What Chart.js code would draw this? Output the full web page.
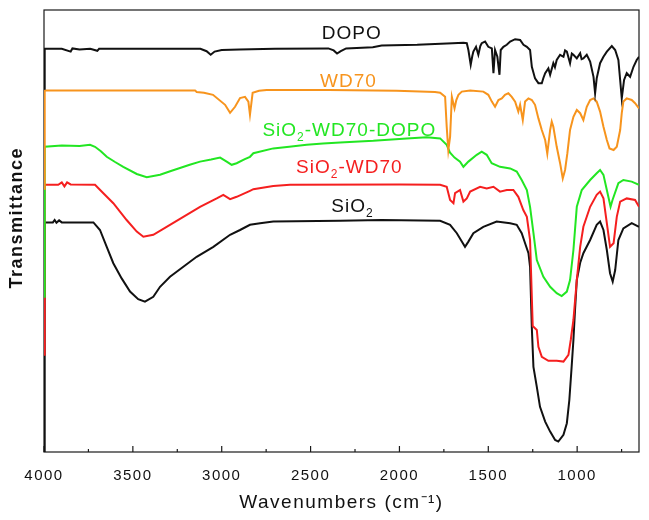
<!DOCTYPE html>
<html>
<head>
<meta charset="utf-8">
<script src="https://cdn.jsdelivr.net/npm/chart.js@4/dist/chart.umd.min.js"></script>
<style>
  body { margin: 0; background: #fff; }
</style>
</head>
<body>
<canvas id="myChart" width="649" height="520"></canvas>
<script>
// FTIR spectra: [wavenumber cm-1, transmittance (a.u.)]
const dopo = [[4000, 90.8], [3996, 100.8], [3900, 100.8], [3850, 100.1], [3840, 100.9], [3800, 100.6], [3740, 100.8], [3700, 100.3], [3690, 100.8], [3300, 100.8], [3120, 100.8], [3085, 100.2], [3062, 99.3], [3040, 100.1], [3000, 100.5], [2900, 100.6], [2700, 100.8], [2400, 100.9], [2370, 100.4], [2351, 99.6], [2330, 100.2], [2300, 100.9], [2150, 101.2], [2100, 101.6], [1900, 101.8], [1800, 102.0], [1700, 102.2], [1640, 102.3], [1621, 102.2], [1612, 100.5], [1599, 96.8], [1590, 99.0], [1584, 100.1], [1569, 101.3], [1556, 99.3], [1545, 101.5], [1537, 102.2], [1518, 102.6], [1500, 101.3], [1480, 100.9], [1471, 94.7], [1462, 100.5], [1449, 98.8], [1437, 94.3], [1430, 100.5], [1415, 101.3], [1396, 101.8], [1377, 102.6], [1349, 103.2], [1321, 103.0], [1302, 101.8], [1283, 101.3], [1265, 100.5], [1255, 96.3], [1237, 93.4], [1218, 92.2], [1199, 92.2], [1190, 93.5], [1180, 94.7], [1162, 95.9], [1152, 94.3], [1134, 97.2], [1125, 96.2], [1115, 98.0], [1096, 99.3], [1077, 98.8], [1068, 100.4], [1058, 100.1], [1040, 97.2], [1030, 99.6], [1021, 99.3], [1002, 98.4], [983, 99.7], [975, 98.2], [965, 98.4], [946, 99.3], [927, 97.6], [908, 93.8], [899, 89.7], [890, 93.4], [871, 97.2], [852, 98.8], [833, 100.1], [805, 101.5], [786, 100.5], [768, 98.0], [758, 93.0], [749, 88.4], [736, 93.0], [721, 94.7], [702, 93.8], [683, 96.3], [665, 98.0], [652, 98.8]];

const wd70 = [[4000, 65.8], [3996, 90.4], [3500, 90.4], [3150, 90.4], [3141, 90.0], [3100, 89.8], [3049, 89.3], [2981, 86.8], [2953, 84.8], [2925, 86.3], [2897, 88.5], [2869, 88.8], [2850, 87.6], [2841, 84.3], [2826, 89.8], [2790, 90.3], [2747, 90.5], [2400, 90.5], [2015, 90.3], [1800, 90.0], [1771, 89.8], [1743, 88.8], [1734, 81.3], [1725, 75.5], [1715, 78.8], [1705, 88.8], [1690, 85.9], [1680, 88.0], [1668, 89.3], [1649, 90.1], [1602, 90.4], [1528, 90.1], [1500, 89.3], [1480, 87.6], [1462, 86.3], [1443, 88.0], [1424, 88.4], [1406, 89.3], [1387, 89.7], [1368, 88.8], [1349, 87.6], [1331, 85.1], [1321, 86.8], [1306, 83.0], [1293, 87.6], [1274, 88.4], [1255, 88.0], [1237, 86.8], [1218, 83.4], [1199, 80.5], [1180, 78.0], [1168, 74.6], [1152, 80.5], [1143, 82.6], [1134, 81.3], [1115, 76.3], [1096, 72.2], [1081, 68.4], [1068, 70.5], [1055, 74.7], [1040, 80.5], [1021, 83.8], [1002, 85.5], [983, 84.7], [965, 83.0], [946, 86.3], [927, 88.0], [908, 88.4], [890, 87.6], [871, 85.1], [852, 81.3], [833, 78.0], [818, 75.9], [795, 75.5], [777, 76.3], [758, 80.5], [749, 84.7], [740, 87.6], [721, 88.4], [693, 88.0], [674, 87.2], [652, 85.9]];

const sio2Wd70Dopo = [[4000, 38.8], [3996, 76.3], [3900, 76.6], [3800, 76.5], [3741, 76.8], [3713, 76.3], [3680, 75.2], [3647, 73.8], [3600, 72.5], [3554, 71.3], [3478, 69.5], [3422, 68.7], [3347, 69.3], [3290, 70.2], [3235, 71.0], [3180, 71.8], [3122, 72.6], [3060, 73.1], [3009, 73.6], [2972, 72.6], [2944, 71.8], [2916, 72.2], [2870, 73.2], [2841, 73.8], [2822, 74.7], [2710, 75.9], [2620, 76.3], [2522, 76.8], [2430, 77.1], [2334, 77.4], [2147, 77.8], [1959, 78.4], [1846, 78.7], [1771, 78.4], [1734, 76.8], [1715, 74.8], [1690, 73.6], [1659, 72.6], [1640, 71.3], [1612, 72.6], [1565, 74.3], [1537, 75.1], [1509, 74.3], [1481, 72.2], [1434, 71.3], [1377, 70.9], [1340, 70.1], [1312, 68.0], [1283, 65.5], [1265, 61.3], [1246, 54.8], [1227, 48.0], [1190, 43.8], [1152, 41.3], [1115, 39.7], [1087, 39.0], [1058, 40.1], [1040, 43.0], [1021, 50.5], [1002, 61.3], [974, 65.5], [927, 68.0], [890, 69.7], [871, 70.5], [852, 69.3], [833, 65.5], [812, 61.3], [801, 63.0], [768, 67.2], [740, 68.0], [693, 67.6], [652, 66.8]];

const sio2Wd70 = [[4000, 24.3], [3996, 66.8], [3920, 66.8], [3900, 67.4], [3885, 66.4], [3870, 67.4], [3850, 66.9], [3713, 66.8], [3666, 64.7], [3610, 62.2], [3535, 58.0], [3478, 55.1], [3441, 53.8], [3385, 54.3], [3310, 56.3], [3216, 58.8], [3122, 61.3], [3028, 63.4], [2991, 64.3], [2953, 63.2], [2916, 63.8], [2841, 65.3], [2822, 65.7], [2710, 66.5], [2616, 66.8], [2000, 66.9], [1771, 66.8], [1734, 66.3], [1715, 63.0], [1696, 62.2], [1687, 64.7], [1659, 65.5], [1640, 62.6], [1621, 63.4], [1602, 65.1], [1546, 66.3], [1509, 65.9], [1471, 66.3], [1434, 65.1], [1396, 65.5], [1359, 65.5], [1331, 63.8], [1303, 60.5], [1283, 58.8], [1265, 53.0], [1250, 31.5], [1227, 30.5], [1218, 26.3], [1199, 23.8], [1162, 22.8], [1115, 22.8], [1077, 22.6], [1049, 24.3], [1036, 28.0], [1021, 33.0], [1002, 43.0], [983, 51.3], [965, 56.3], [927, 61.3], [890, 64.3], [871, 65.1], [852, 63.4], [833, 57.2], [815, 51.3], [795, 52.2], [777, 58.8], [758, 62.6], [721, 63.4], [674, 63.0], [652, 61.3]];

const sio2 = [[4000, 0], [3996, 57.4], [3950, 57.4], [3940, 58.0], [3930, 57.3], [3915, 57.9], [3900, 57.4], [3722, 57.4], [3685, 55.5], [3647, 51.3], [3610, 47.2], [3563, 43.4], [3516, 40.1], [3470, 38.2], [3432, 37.6], [3385, 38.8], [3347, 41.3], [3291, 43.8], [3216, 46.3], [3141, 48.8], [3047, 51.3], [2953, 54.3], [2897, 55.5], [2841, 56.8], [2784, 57.2], [2710, 57.6], [2334, 57.8], [2100, 58.0], [1771, 57.8], [1715, 56.8], [1677, 54.7], [1649, 52.6], [1631, 51.3], [1612, 52.6], [1584, 54.7], [1528, 56.3], [1453, 57.6], [1377, 57.2], [1340, 56.8], [1312, 54.7], [1293, 52.2], [1274, 49.7], [1265, 46.3], [1255, 31.0], [1246, 21.3], [1227, 16.3], [1209, 11.3], [1180, 7.6], [1152, 5.1], [1124, 3.0], [1106, 2.6], [1077, 4.3], [1058, 7.2], [1044, 13.0], [1031, 21.3], [1021, 28.0], [1012, 35.5], [1002, 43.0], [983, 47.3], [965, 49.7], [927, 53.0], [890, 56.8], [871, 57.6], [852, 55.5], [833, 50.5], [815, 44.7], [800, 42.6], [786, 45.5], [768, 53.0], [740, 55.9], [693, 57.2], [652, 56.3]];

const seriesNames = ['DOPO', 'WD70', 'SiO2-WD70-DOPO', 'SiO2-WD70', 'SiO2'];
const seriesData = [dopo, wd70, sio2Wd70Dopo, sio2Wd70, sio2];
const seriesColors = ['#111111', '#f7941d', '#22e622', '#f51f1f', '#111111'];

// in-plot labels, placed in data coordinates
const labelWaves = [2268, 2287, 2282, 2282, 2264];
const labelLevels = [103.3, 91.3, 79.1, 69.8, 60.1];

const majorTicks = [4000, 3500, 3000, 2500, 2000, 1500, 1000];
const minorTicks = [3750, 3250, 2750, 2250, 1750, 1250, 750];

const yTitle = 'Transmittance';
const FONT = '"Liberation Sans", Arial, sans-serif';

function drawLabel(ctx, text, cx, baseY, color) {
  let pieces = [{ t: text, sub: false }];
  if (text.startsWith('SiO2')) {
    pieces = [{ t: 'SiO', sub: false }, { t: '2', sub: true }, { t: text.slice(4), sub: false }];
  }
  pieces = pieces.filter(p => p.t.length);
  const big = '19px ' + FONT, small = '12px ' + FONT;
  let total = 0;
  pieces.forEach(p => {
    ctx.font = p.sub ? small : big;
    p.w = ctx.measureText(p.t).width;
    total += p.w;
  });
  let x = cx - total / 2;
  ctx.fillStyle = color;
  ctx.textAlign = 'left';
  ctx.textBaseline = 'alphabetic';
  pieces.forEach(p => {
    ctx.font = p.sub ? small : big;
    ctx.fillText(p.t, x, p.sub ? baseY + 5 : baseY);
    x += p.w;
  });
}

const framePlugin = {
  id: 'framePlugin',
  beforeDraw(chart) {
    chart.ctx.letterSpacing = '1.5px';
  },
  beforeDatasetsDraw(chart) {
    const { ctx, chartArea: a, scales: { x } } = chart;
    ctx.save();
    ctx.strokeStyle = '#1a1a1a';
    ctx.lineWidth = 1.2;
    ctx.strokeRect(a.left, a.top, a.right - a.left, a.bottom - a.top);
    x.ticks.forEach(t => {
      const px = x.getPixelForValue(t.value);
      const len = majorTicks.includes(t.value) ? 6 : 3;
      ctx.beginPath();
      ctx.moveTo(px, a.bottom);
      ctx.lineTo(px, a.bottom - len);
      ctx.stroke();
    });
    // y axis title, a little above centre as in the figure
    ctx.translate(17, a.top + (a.bottom - a.top) * 0.47);
    ctx.rotate(-Math.PI / 2);
    ctx.font = 'bold 18px ' + FONT;
    ctx.fillStyle = '#111';
    ctx.textAlign = 'center';
    ctx.textBaseline = 'middle';
    ctx.fillText(yTitle, 0, 0);
    ctx.restore();
  },
  afterDatasetsDraw(chart) {
    const { ctx, scales: { x, y } } = chart;
    ctx.save();
    ctx.letterSpacing = '1px';
    seriesNames.forEach((name, i) => {
      drawLabel(ctx, name, x.getPixelForValue(labelWaves[i]), y.getPixelForValue(labelLevels[i]), seriesColors[i]);
    });
    ctx.restore();
  }
};

const ctx = document.getElementById('myChart').getContext('2d');
const myChart = new Chart(ctx, {
  type: 'line',
  data: {
    datasets: seriesNames.map((name, i) => ({
      label: name,
      data: seriesData[i].map(p => ({ x: p[0], y: p[1] })),
      borderColor: seriesColors[i],
      borderWidth: 2,
      pointRadius: 0,
      tension: 0,
      fill: false,
    })),
  },
  options: {
    responsive: false,
    devicePixelRatio: 1,
    animation: false,
    layout: { padding: { top: 10, right: 10, left: 0, bottom: 0 } },
    plugins: { legend: { display: false }, tooltip: { enabled: false } },
    scales: {
      x: {
        type: 'linear',
        reverse: true,
        min: 652,
        max: 4000,
        grid: { display: false },
        border: { display: false },
        afterBuildTicks: (scale) => {
          scale.ticks = majorTicks.concat(minorTicks).map(v => ({ value: v }));
        },
        afterFit: (scale) => { scale.height = 68; },
        ticks: {
          autoSkip: false,
          maxRotation: 0,
          padding: 7,
          color: '#111',
          font: { family: FONT, size: 15 },
          callback: (v) => majorTicks.includes(v) ? String(v) : '',
        },
        title: {
          display: true,
          text: 'Wavenumbers (cm⁻¹)',
          color: '#111',
          font: { family: FONT, size: 19 },
          padding: { top: 0, bottom: 6 },
        },
      },
      y: {
        min: 0,
        max: 110.5,
        grid: { display: false },
        border: { display: false },
        ticks: { display: false },
        afterFit: (scale) => { scale.width = 44; },
        title: { display: false },
      },
    },
  },
  plugins: [framePlugin],
});
</script>
</body>
</html>
